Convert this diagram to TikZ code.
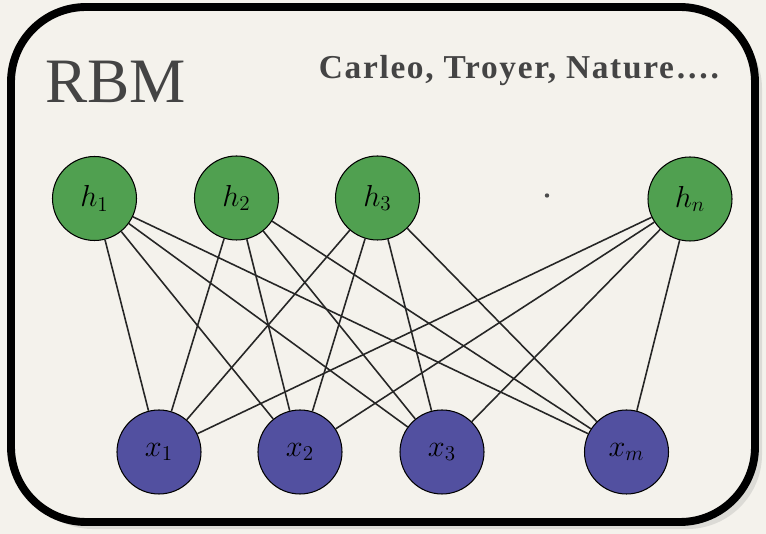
\documentclass[tikz,border=0pt]{standalone}
\usepackage[no-math]{fontspec}
\newfontfamily\titlefont{Liberation Serif}
\newfontfamily\citefont[LetterSpace=5]{Liberation Serif}
\usetikzlibrary{shadows}
\definecolor{paper}{RGB}{244,242,236}
\definecolor{hidgreen}{RGB}{80,160,80}
\definecolor{visblue}{RGB}{82,80,160}
\definecolor{inkgray}{RGB}{68,68,68}
\begin{document}
\begin{tikzpicture}[
  hid/.style={draw, circle, fill=hidgreen, minimum size=1.68cm, inner sep=0pt, line width=0.6pt, font=\LARGE},
  vis/.style={draw, circle, fill=visblue, minimum size=1.68cm, inner sep=0pt, line width=0.6pt, font=\LARGE},
  link/.style={draw, line width=0.9pt, black!85}]
% paper and frame
\fill[paper] (0,0) rectangle (15.32,10.68);
\useasboundingbox (0,0) rectangle (15.32,10.68);
\draw[line width=4.5pt, fill=paper, rounded corners=1.5cm,
  drop shadow={opacity=0.2, shadow xshift=4pt, shadow yshift=-4pt}] (0.22,0.24) rectangle (15.1,10.54);
% headings
\node[anchor=base west, inner sep=0pt, text=inkgray, font=\titlefont\fontsize{36}{40}\selectfont] (title) at (0.9,8.62) {RBM};
\node[anchor=base, inner sep=0pt, text=inkgray, font=\citefont\bfseries\fontsize{19}{23}\selectfont] (cite) at (10.38,9.11) {Carleo, Troyer, Nature….};
% hidden layer
\node[hid] (h1) at (1.89,6.71) {$h_1$};
\node[hid] (h2) at (4.73,6.72) {$h_2$};
\node[hid] (h3) at (7.55,6.72) {$h_3$};
\node[circle, fill=black!70, inner sep=0pt, minimum size=2.5pt] (gap) at (10.94,6.77) {};
\node[hid] (hn) at (13.8,6.70) {$h_n$};
% visible layer
\node[vis] (x1) at (3.18,1.64) {$x_1$};
\node[vis] (x2) at (6.0,1.64) {$x_2$};
\node[vis] (x3) at (8.84,1.64) {$x_3$};
\node[vis] (xm) at (12.53,1.64) {$x_m$};
% all hidden-visible couplings
\path[link] (h1) -- (x1);
\path[link] (h1) -- (x2);
\path[link] (h1) -- (x3);
\path[link] (h1) -- (xm);
\path[link] (h2) -- (x1);
\path[link] (h2) -- (x2);
\path[link] (h2) -- (x3);
\path[link] (h2) -- (xm);
\path[link] (h3) -- (x1);
\path[link] (h3) -- (x2);
\path[link] (h3) -- (x3);
\path[link] (h3) -- (xm);
\path[link] (hn) -- (x1);
\path[link] (hn) -- (x2);
\path[link] (hn) -- (x3);
\path[link] (hn) -- (xm);
\end{tikzpicture}
\end{document}
